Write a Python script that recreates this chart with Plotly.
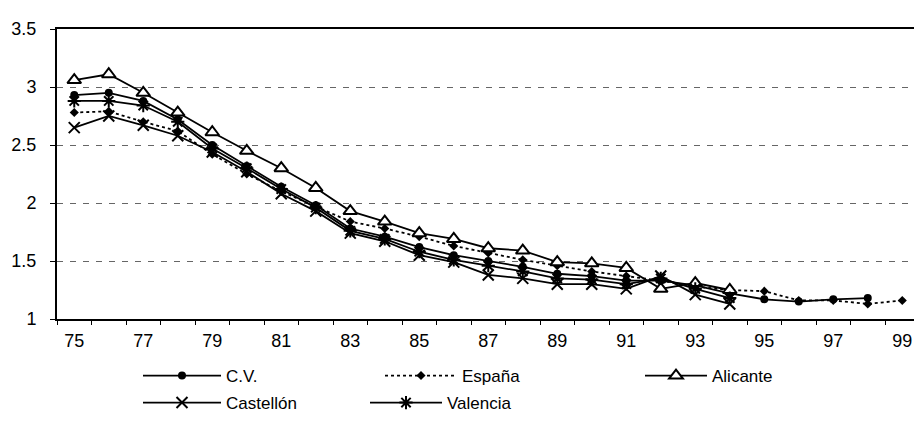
import plotly.graph_objects as go

years = [75, 76, 77, 78, 79, 80, 81, 82, 83, 84, 85, 86, 87,
         88, 89, 90, 91, 92, 93, 94, 95, 96, 97, 98, 99]

cv = [2.93, 2.95, 2.88, 2.72, 2.50, 2.32, 2.14, 1.98, 1.78, 1.71, 1.62, 1.55, 1.50,
      1.45, 1.39, 1.37, 1.33, 1.33, 1.29, 1.22, 1.17, 1.15, 1.17, 1.18, None]
espana = [2.78, 2.79, 2.70, 2.62, 2.42, 2.25, 2.10, 1.97, 1.84, 1.78, 1.71, 1.63, 1.57,
          1.51, 1.46, 1.41, 1.37, 1.33, 1.28, 1.25, 1.24, 1.16, 1.16, 1.13, 1.16]
alicante = [3.06, 3.11, 2.95, 2.78, 2.61, 2.45, 2.30, 2.13, 1.93, 1.84, 1.74, 1.69, 1.61,
            1.59, 1.49, 1.48, 1.44, 1.26, 1.31, 1.25, None, None, None, None, None]
castellon = [2.65, 2.75, 2.67, 2.58, 2.44, 2.27, 2.08, 1.93, 1.74, 1.67, 1.55, 1.49, 1.38,
             1.35, 1.30, 1.30, 1.26, 1.37, 1.21, 1.13, None, None, None, None, None]
valencia = [2.88, 2.88, 2.84, 2.70, 2.47, 2.30, 2.12, 1.96, 1.76, 1.69, 1.58, 1.51, 1.46,
            1.41, 1.35, 1.34, 1.30, 1.35, 1.26, 1.18, None, None, None, None, None]

x_tick_vals = [75, 77, 79, 81, 83, 85, 87, 89, 91, 93, 95, 97, 99]
x_tick_text = ["75", "77", "79", "81", "83", "85", "87", "89", "91", "93", "95", "97", "99"]
y_tick_vals = [1, 1.5, 2, 2.5, 3, 3.5]
y_tick_text = ["1", "1.5", "2", "2.5", "3", "3.5"]

FONT = "Liberation Sans, Arial, sans-serif"
W, H = 914, 424

fig = go.Figure()

fig.add_trace(go.Scatter(
    x=years, y=cv, name="C.V.", mode="lines+markers", legend="legend",
    line=dict(color="black", width=1.8),
    marker=dict(symbol="circle", size=8, color="black"),
))
fig.add_trace(go.Scatter(
    x=years, y=espana, name="España", mode="lines+markers", legend="legend2",
    line=dict(color="black", width=1.8, dash="dot"),
    marker=dict(symbol="diamond", size=7, color="black"),
))
fig.add_trace(go.Scatter(
    x=years, y=alicante, name="Alicante", mode="lines+markers", legend="legend3",
    line=dict(color="black", width=1.8),
    marker=dict(symbol="triangle-up", size=12, color="white",
                line=dict(color="black", width=2)),
))
fig.add_trace(go.Scatter(
    x=years, y=castellon, name="Castellón", mode="lines+markers", legend="legend4",
    line=dict(color="black", width=1.8),
    marker=dict(symbol="x-thin", size=11, color="black",
                line=dict(color="black", width=2)),
))
fig.add_trace(go.Scatter(
    x=years, y=valencia, name="Valencia", mode="lines+markers", legend="legend5",
    line=dict(color="black", width=1.8),
    marker=dict(symbol="asterisk", size=11, color="black",
                line=dict(color="black", width=2)),
))


def leg(px_x, px_y, iw):
    return dict(
        orientation="h", xanchor="left", yanchor="middle",
        xref="container", yref="container",
        x=(px_x - 5) / W, y=1 - px_y / H,
        itemwidth=iw,
        font=dict(family=FONT, size=17, color="black"),
        bgcolor="rgba(0,0,0,0)", borderwidth=0,
    )


fig.update_layout(
    width=W, height=H,
    margin=dict(l=57, r=0, t=29, b=105, autoexpand=False),
    paper_bgcolor="white", plot_bgcolor="white",
    font=dict(family=FONT, size=17, color="black"),
    showlegend=True,
    legend=leg(143, 376, 78),
    legend2=leg(385, 376, 72),
    legend3=leg(645, 376, 62),
    legend4=leg(143, 403, 78),
    legend5=leg(370, 403, 72),
    xaxis=dict(
        type="linear", range=[74.5, 99.34], automargin=False,
        tickmode="array", tickvals=x_tick_vals, ticktext=x_tick_text,
        ticks="", showgrid=False, zeroline=False,
        showline=True, linecolor="black", linewidth=2, mirror=True,
        tickfont=dict(family=FONT, size=18, color="black"),
        ticklabelstandoff=4,
        minor=dict(tick0=74.5, dtick=1, ticks="outside", ticklen=4,
                   tickcolor="black", tickwidth=1, showgrid=False),
    ),
    yaxis=dict(
        range=[1, 3.5], automargin=False,
        tickmode="array", tickvals=y_tick_vals, ticktext=y_tick_text,
        ticks="outside", ticklen=5, tickcolor="black",
        ticklabelstandoff=10,
        showgrid=True, gridcolor="#666666", gridwidth=1, griddash="6px,7px",
        zeroline=False,
        showline=True, linecolor="black", linewidth=2, mirror=True,
        tickfont=dict(family=FONT, size=18, color="black"),
    ),
)

fig.write_html("out.html", config={"displayModeBar": False},
               post_script="document.body.style.margin='0';")
